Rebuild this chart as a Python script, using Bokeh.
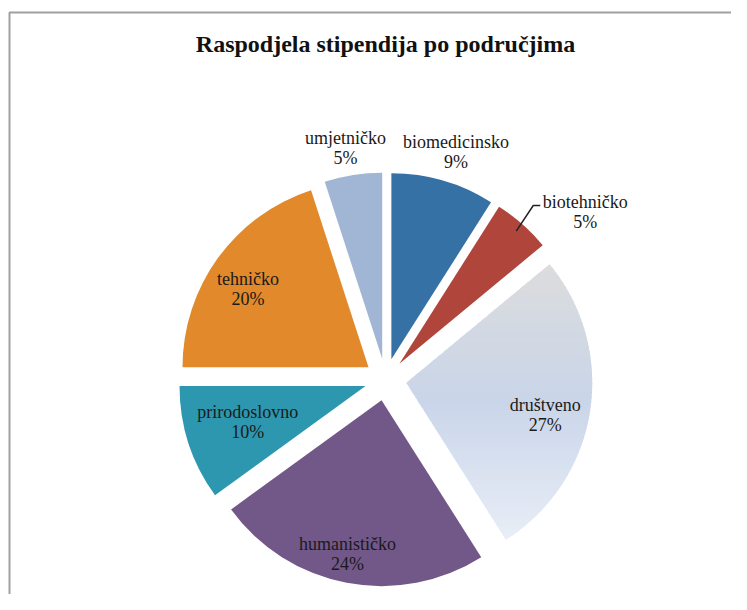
import numpy as np
from bokeh.plotting import figure
from bokeh.models import Range1d, ColumnDataSource
from bokeh.core.properties import value
from bokeh.embed import file_html
from bokeh.resources import INLINE

# ---------------- data ----------------
title_text = "Raspodjela stipendija po područjima"
categories = ["biomedicinsko", "biotehničko", "društveno", "humanističko",
              "prirodoslovno", "tehničko", "umjetničko"]
shares = [9, 5, 27, 24, 10, 20, 5]

# ---------------- style ----------------
colors = ["#3571a4", "#b0463b", None, "#725789", "#2c97af", "#e1892b", "#a1b6d5"]
gradient_stops = [(0.0, "#dcdcdd"), (0.5, "#c9d5e9"), (1.0, "#e9eef7")]
label_dist = [1.28, 1.40, 0.88, 0.96, 0.775, 0.885, 1.265]  # fraction of radius
label_nudge = [1.0, 8.7, 3.4, 1.5, 0.7, -2.6, -0.8]        # degrees, clockwise
leader = [False, True, False, False, False, False, False]

W, H = 731, 594
CX, CY = 385, H - 379
R = 186
EXPLODE = 21
FONT = "Liberation Serif"
TXT = "#1a1a1a"


def hex2rgb(h):
    h = h.lstrip("#")
    return np.array([int(h[i:i + 2], 16) for i in (0, 2, 4)], dtype=float)


def grad_color(t):
    for (t0, c0), (t1, c1) in zip(gradient_stops[:-1], gradient_stops[1:]):
        if t <= t1:
            f = (t - t0) / (t1 - t0)
            c = hex2rgb(c0) * (1 - f) + hex2rgb(c1) * f
            return "#%02x%02x%02x" % tuple(int(round(v)) for v in c)
    return gradient_stops[-1][1]


def clip_half(poly, y0, keep_above):
    out = []
    n = len(poly)
    for i in range(n):
        P, Q = poly[i], poly[(i + 1) % n]
        pin = P[1] >= y0 if keep_above else P[1] <= y0
        qin = Q[1] >= y0 if keep_above else Q[1] <= y0
        if pin:
            out.append(P)
        if pin != qin:
            t = (y0 - P[1]) / (Q[1] - P[1])
            out.append((P[0] + t * (Q[0] - P[0]), y0))
    return out


p = figure(width=W, height=H, output_backend="svg", toolbar_location=None,
           x_range=Range1d(0, W), y_range=Range1d(0, H),
           x_axis_location=None, y_axis_location=None, min_border=0,
           outline_line_color=None, background_fill_color="white",
           border_fill_color="white")
p.grid.visible = False

# chart-area border (top and left)
p.line(x=[9, 9, W], y=[0, H - 12, H - 12], line_color="#a0a0a0", line_width=2)

total = float(sum(shares))
cum = np.concatenate([[0.0], np.cumsum(shares)]) / total * 360.0

lab_x, lab_y, pct_y, pct_txt = [], [], [], []
lead_x, lead_y = [], []
for i, (cat, s) in enumerate(zip(categories, shares)):
    a1, a2 = cum[i], cum[i + 1]
    bis = (a1 + a2) / 2.0
    br = np.radians(bis)
    ax = CX + EXPLODE * np.sin(br)
    ay = CY + EXPLODE * np.cos(br)
    if colors[i] is not None:
        p.wedge(x=[ax], y=[ay], radius=R,
                start_angle=[np.radians(90 - a2)], end_angle=[np.radians(90 - a1)],
                fill_color=colors[i], line_color=None)
    else:
        angs = np.radians(np.linspace(a1, a2, 160))
        poly = [(ax, ay)] + [(ax + R * np.sin(a), ay + R * np.cos(a)) for a in angs]
        ys = [q[1] for q in poly]
        ymin, ymax = min(ys), max(ys)
        nb = 60
        edges = np.linspace(ymax, ymin, nb + 1)
        xs_l, ys_l, cols = [], [], []
        for b in range(nb):
            top, bot = edges[b] + 0.6, edges[b + 1] - 0.6
            piece = clip_half(clip_half(poly, bot, True), top, False)
            if len(piece) < 3:
                continue
            xs_l.append([q[0] for q in piece])
            ys_l.append([q[1] for q in piece])
            tmid = (ymax - (edges[b] + edges[b + 1]) / 2) / (ymax - ymin)
            cols.append(grad_color(tmid))
        p.patches(xs=xs_l, ys=ys_l, fill_color=cols, line_color=None)

    lr = np.radians(bis + label_nudge[i])
    d = R * label_dist[i]
    lx = CX + d * np.sin(lr)
    ly = CY + d * np.cos(lr)
    lab_x.append(lx)
    lab_y.append(ly + 10)
    pct_y.append(ly - 10)
    pct_txt.append(f"{s}%")
    if leader[i]:
        sx0 = ax + R * 0.95 * np.sin(br)
        sy0 = ay + R * 0.95 * np.cos(br)
        lead_x.append([sx0, lx - 52, lx - 45])
        lead_y.append([sy0, ly + 7, ly + 7])

p.multi_line(xs=lead_x, ys=lead_y, line_color="#222222", line_width=1.5)

src = ColumnDataSource(dict(x=lab_x, y=lab_y, yp=pct_y, t=categories, tp=pct_txt))
p.text(x="x", y="y", text="t", source=src, text_align="center",
       text_baseline="middle", text_font=value(FONT), text_font_style="normal",
       text_font_size="18px", text_color=TXT)
p.text(x="x", y="yp", text="tp", source=src, text_align="center",
       text_baseline="middle", text_font=value(FONT), text_font_style="normal",
       text_font_size="18px", text_color=TXT)

# title
p.text(x=[385], y=[H - 43], text=[title_text], text_align="center",
       text_baseline="middle", text_font=value(FONT), text_font_style="bold",
       text_font_size="24px", text_color="#111111")

open("out.html", "w").write(file_html(p, INLINE))
